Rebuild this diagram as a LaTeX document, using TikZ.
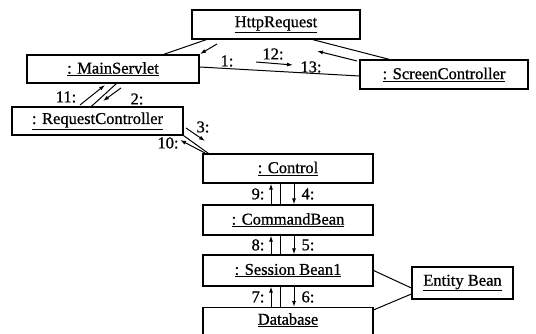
\documentclass[tikz,border=0pt]{standalone}
\usepackage{fontspec}
\setmainfont{Liberation Serif}
\newfontfamily\diafont{Liberation Serif}[FakeBold=0.8]
\usetikzlibrary{arrows.meta}
\begin{document}
\begin{tikzpicture}[x=1pt,y=-1pt,
  font=\diafont\fontsize{16.5}{18}\selectfont,
  obj/.style={draw, line width=1.2pt, inner sep=0pt, minimum height=29pt},
  assoc/.style={line width=1pt},
  msg/.style={line width=1pt, -{Latex[length=6pt,width=4pt]}},
  lbl/.style={inner sep=0pt}]
\useasboundingbox (0,0) rectangle (536,334);
\clip (0,0) rectangle (536,334);
% objects
\node[obj, minimum width=168pt] (http) at (276,24.5) {\underline{HttpRequest}};
\node[obj, minimum width=172pt, minimum height=28pt] (main) at (113,69) {\underline{: MainServlet}};
\node[obj, minimum width=168pt] (screen) at (444,74.5) {\underline{: ScreenController}};
\node[obj, minimum width=171pt, minimum height=28pt] (req) at (97.5,121) {\underline{: RequestController}};
\node[obj, minimum width=170pt] (control) at (288,168.5) {\underline{: Control}};
\node[obj, minimum width=170pt, minimum height=30pt] (cmd) at (288,220) {\underline{: CommandBean}};
\node[obj, minimum width=170pt, minimum height=31pt] (sess) at (288,270.5) {\underline{: Session Bean1}};
\node[obj, minimum width=170pt, minimum height=33pt, text depth=10pt] (db) at (288,324) {\underline{Database}};
\node[obj, minimum width=101pt, minimum height=32pt] (entity) at (462.5,283) {\underline{Entity Bean}};
% associations
\draw[assoc] ([xshift=15pt]http.south west) -- ([xshift=-36pt]main.north east);
\draw[assoc] ([xshift=-48pt]http.south east) -- ([xshift=30pt]screen.north west);
\draw[assoc] ([yshift=2pt]main.east) -- ([yshift=-1.5pt]screen.west);
\draw[assoc] ([xshift=80pt]req.north west) -- ([xshift=90pt]main.south west);
\draw[assoc] (req.south east) -- ([xshift=6pt]control.north west);
\draw[assoc] (control.south) ++(-8pt,0) coordinate (c1) (cmd.north) ++(-8pt,0) coordinate (c2);
\draw[assoc] (c1) -- (c2);
\draw[assoc] (cmd.south) ++(-8pt,0) coordinate (c3) (sess.north) ++(-8pt,0) coordinate (c4);
\draw[assoc] (c3) -- (c4);
\draw[assoc] (sess.south) ++(-8pt,0) coordinate (c5) (db.north) ++(-8pt,0) coordinate (c6);
\draw[assoc] (c5) -- (c6);
\draw[assoc] (sess.east) -- ([yshift=-5pt]entity.west);
\draw[assoc] ([yshift=-3pt]db.north east) -- ([yshift=-11pt]entity.west);
% message arrow end points
\coordinate (m1a) at (217,44);  \coordinate (m1b) at (200,54);
\coordinate (m2a) at (121,88);  \coordinate (m2b) at (103,101);
\coordinate (m11a) at (80,105); \coordinate (m11b) at (105,85);
\coordinate (m3a) at (186,128); \coordinate (m3b) at (205,141);
\coordinate (m10a) at (205,153); \coordinate (m10b) at (180,140);
\coordinate (m12a) at (256,62); \coordinate (m12b) at (293,65);
\coordinate (m13a) at (357,61); \coordinate (m13b) at (317,51);
% messages
\draw[msg] (m1a) -- (m1b);
\draw[msg] (m2a) -- (m2b);
\draw[msg] (m11a) -- (m11b);
\draw[msg] (m3a) -- (m3b);
\draw[msg] (m10a) -- (m10b);
\draw[msg] (m12a) -- (m12b);
\draw[msg] (m13a) -- (m13b);
\draw[msg] ([xshift=-17pt]cmd.north) -- ([xshift=-17pt]control.south);
\draw[msg] ([xshift=6pt]control.south) -- ([xshift=6pt]cmd.north);
\draw[msg] ([xshift=-17pt]sess.north) -- ([xshift=-17pt]cmd.south);
\draw[msg] ([xshift=6pt]cmd.south) -- ([xshift=6pt]sess.north);
\draw[msg] ([xshift=-17pt]db.north) -- ([xshift=-17pt]sess.south);
\draw[msg] ([xshift=6pt]sess.south) -- ([xshift=6pt]db.north);
% labels
\node[lbl] (l1) at (227,61) {1:};
\node[lbl] (l12) at (273,54) {12:};
\node[lbl] (l13) at (311,67) {13:};
\node[lbl] (l11) at (66,97) {11:};
\node[lbl] (l2) at (137,99) {2:};
\node[lbl] (l3) at (203,127) {3:};
\node[lbl] (l10) at (168,143) {10:};
\node[lbl] (l9) at (258,194) {9:};
\node[lbl] (l4) at (308,194) {4:};
\node[lbl] (l8) at (258,245) {8:};
\node[lbl] (l5) at (308,245) {5:};
\node[lbl] (l7) at (258,297) {7:};
\node[lbl] (l6) at (308,297) {6:};
\end{tikzpicture}
\end{document}
